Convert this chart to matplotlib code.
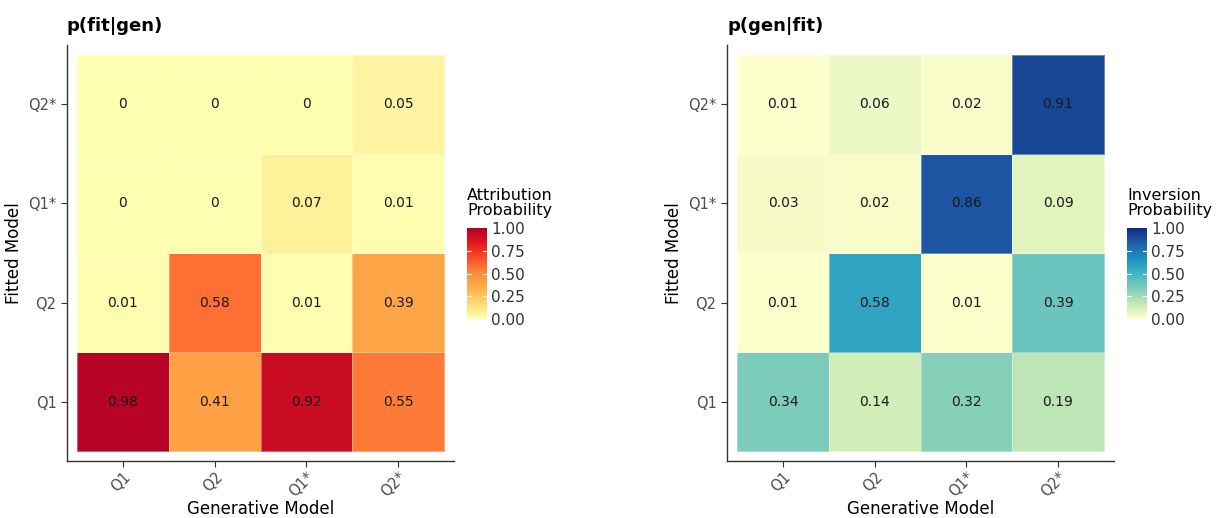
import numpy as np
import matplotlib
matplotlib.use("Agg")
import matplotlib.pyplot as plt
from matplotlib.colors import LinearSegmentedColormap

models = ["Q1", "Q2", "Q1*", "Q2*"]

# rows = fitted model (Q1, Q2, Q1*, Q2*), cols = generative model
p_fit_gen = [
    [0.98, 0.41, 0.92, 0.55],
    [0.01, 0.58, 0.01, 0.39],
    [0.00, 0.00, 0.07, 0.01],
    [0.00, 0.00, 0.00, 0.05],
]
p_gen_fit = [
    [0.34, 0.14, 0.32, 0.19],
    [0.01, 0.58, 0.01, 0.39],
    [0.03, 0.02, 0.86, 0.09],
    [0.01, 0.06, 0.02, 0.91],
]
cbar_ticks = [0.0, 0.25, 0.5, 0.75, 1.0]

ylorrd = LinearSegmentedColormap.from_list(
    "ylorrd7", ["#ffffb2", "#fed976", "#feb24c", "#fd8d3c", "#fc4e2a", "#e31a1c", "#b10026"])
ylgnbu = LinearSegmentedColormap.from_list(
    "ylgnbu7", ["#ffffcc", "#c7e9b4", "#7fcdbb", "#41b6c4", "#1d91c0", "#225ea8", "#0c2c84"])

W, H = 1219, 518
fig = plt.figure(figsize=(W / 100, H / 100), dpi=100)

dark = "#333333"
tick_col = "#4d4d4d"


def panel(x0, data, cmap, title, cbar_title, cbx):
    ax = fig.add_axes([x0 / W, 1 - 461 / H, 387 / W, 416 / H])
    arr = np.array(data)
    n = len(models)
    mesh = ax.pcolormesh(np.arange(n + 1) - 0.5, np.arange(n + 1) - 0.5, arr,
                         cmap=cmap, vmin=0, vmax=1, edgecolor=(1, 1, 1, 0.35), linewidth=0.6)
    for i in range(n):
        for j in range(n):
            ax.text(j, i, f"{arr[i, j]:g}", ha="center", va="center",
                    fontsize=10, color="#1a1a1a")
    ax.set_xlim(-0.61, n - 0.39)
    ax.set_ylim(-0.6, n - 0.4)
    ax.set_xticks(range(n))
    ax.set_yticks(range(n))
    ax.set_xticklabels(models, rotation=45, ha="right", rotation_mode="anchor")
    ax.set_yticklabels(models)
    ax.tick_params(colors=dark, labelcolor=tick_col, labelsize=10.5, length=4, width=0.8)
    ax.tick_params(axis="x", pad=2)
    for s in ["top", "right"]:
        ax.spines[s].set_visible(False)
    for s in ["left", "bottom"]:
        ax.spines[s].set_color(dark)
        ax.spines[s].set_linewidth(1.0)
    ax.set_xlabel("Generative Model", fontsize=12, color="black")
    ax.xaxis.set_label_coords(0.5, -0.093)
    ax.set_ylabel("Fitted Model", fontsize=12, color="black", labelpad=4)
    ax.set_title(title, loc="left", fontsize=13, fontweight="bold", pad=10)

    cax = fig.add_axes([cbx / W, 1 - 319 / H, 20 / W, 91 / H])
    cb = fig.colorbar(mesh, cax=cax, ticks=cbar_ticks)
    cb.outline.set_visible(False)
    cb.ax.set_yticklabels([f"{t:.2f}" for t in cbar_ticks])
    cb.ax.tick_params(length=0, labelsize=11, labelcolor=dark, pad=3)
    for t in cbar_ticks[1:-1]:
        cax.plot([0, 0.2], [t, t], color="white", lw=0.8)
        cax.plot([0.8, 1], [t, t], color="white", lw=0.8)
    fig.text(cbx / W, 1 - 203 / H, cbar_title, fontsize=11.5, va="center", ha="left",
             linespacing=0.95)


panel(67, p_fit_gen, ylorrd, "p(fit|gen)", "Attribution\nProbability", 467)
panel(727, p_gen_fit, ylgnbu, "p(gen|fit)", "Inversion\nProbability", 1127)

fig.savefig("out.png", dpi=100)
